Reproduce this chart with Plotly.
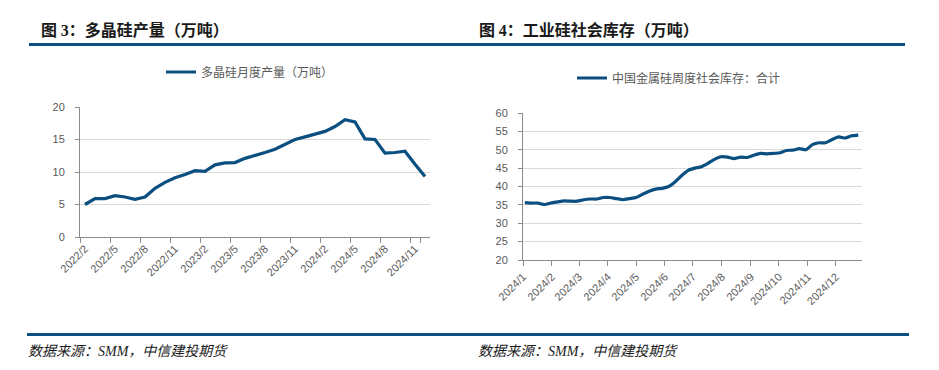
import plotly.graph_objects as go
import datetime as _dt

W, H = 939, 370
OFF = 8  # browser body margin offset of the plot div

# ---- Data: polysilicon monthly output (万吨) ----
poly_months = [
    "2022/2", "2022/3", "2022/4", "2022/5", "2022/6", "2022/7", "2022/8", "2022/9",
    "2022/10", "2022/11", "2022/12", "2023/1", "2023/2", "2023/3", "2023/4", "2023/5",
    "2023/6", "2023/7", "2023/8", "2023/9", "2023/10", "2023/11", "2023/12", "2024/1",
    "2024/2", "2024/3", "2024/4", "2024/5", "2024/6", "2024/7", "2024/8", "2024/9",
    "2024/10", "2024/11", "2024/12",
]
poly_output = [
    5.0, 5.9, 5.9, 6.35, 6.15, 5.8, 6.15, 7.5,
    8.4, 9.1, 9.6, 10.2, 10.1, 11.1, 11.4, 11.45,
    12.1, 12.5, 13.0, 13.5, 14.2, 15.0, 15.4, 15.85,
    16.25, 17.0, 18.05, 17.7, 15.1, 15.0, 12.9, 13.0,
    13.2, 11.2, 9.3,
]
poly_tick_labels = poly_months[::3]

# ---- Data: industrial silicon weekly social inventory (万吨) ----
inv_start = "2024-01-03"
inv_values = [
    35.6, 35.5, 35.5, 35.1, 35.5, 35.8, 36.1, 36.0, 36.0, 36.4,
    36.6, 36.6, 37.0, 37.0, 36.7, 36.4, 36.7, 37.0, 37.9, 38.7,
    39.3, 39.5, 40.0, 41.3, 43.0, 44.4, 45.0, 45.4, 46.3, 47.4,
    48.1, 48.0, 47.6, 48.0, 47.9, 48.5, 49.0, 48.9, 49.0, 49.2,
    49.8, 49.9, 50.3, 50.0, 51.4, 51.9, 51.9, 52.8, 53.5, 53.2,
    53.8, 54.0,
]
inv_tick_dates = [f"2024-{m:02d}-01" for m in range(1, 13)]
inv_tick_labels = [f"2024/{m}" for m in range(1, 13)]

_d0 = _dt.date.fromisoformat(inv_start)
inv_dates = [(_d0 + _dt.timedelta(days=7 * i)).isoformat() for i in range(len(inv_values))]

LINE = "#0b4f80"
AX = "#8c8c8c"
GRID = "#d9d9d9"
TXT = "#595959"
TICKFONT = dict(family="Liberation Sans, Arial, sans-serif", size=11, color=TXT)
CJK = "Noto Sans CJK SC"


def px(x):
    return (x - OFF) / W


def py(y):
    return 1 - (y - OFF) / H


fig = go.Figure()

fig.add_trace(go.Scatter(
    x=poly_months, y=poly_output, mode="lines",
    line=dict(color=LINE, width=3.2),
    name="多晶硅月度产量（万吨）",
    xaxis="x", yaxis="y", legend="legend",
))
fig.add_trace(go.Scatter(
    x=inv_dates, y=inv_values, mode="lines",
    line=dict(color=LINE, width=3.2, shape="spline", smoothing=0.6),
    name="中国金属硅周度社会库存：合计",
    xaxis="x2", yaxis="y2", legend="legend2",
))

common_y = dict(
    showgrid=True, gridcolor=GRID, gridwidth=1,
    showline=True, linecolor=AX, linewidth=1,
    ticks="outside", ticklen=4, tickcolor=AX,
    tickfont=TICKFONT, zeroline=False, ticklabelstandoff=8,
    automargin=False,
)
common_x = dict(
    showgrid=False, showline=True, linecolor=AX, linewidth=1,
    ticks="outside", ticklen=5, tickcolor=AX,
    tickfont=TICKFONT, tickangle=-45, zeroline=False,
    automargin=False,
)

fig.update_layout(
    width=W, height=H, autosize=False,
    margin=dict(l=0, r=0, t=0, b=0, pad=0, autoexpand=False),
    paper_bgcolor="white", plot_bgcolor="white",
    xaxis=dict(
        domain=[px(80), px(430)], anchor="y", type="category",
        categoryorder="array", categoryarray=poly_months,
        range=[-0.5, len(poly_months) - 0.5],
        tickmode="array", tickvals=poly_tick_labels, ticktext=poly_tick_labels,
        tickson="boundaries", **common_x,
    ),
    yaxis=dict(
        domain=[py(237), py(107)], anchor="x", range=[0, 20], dtick=5,
        **common_y,
    ),
    xaxis2=dict(
        domain=[px(523), px(862)], anchor="y2", type="date",
        range=["2024-01-01", "2024-12-29"],
        tickmode="array", tickvals=inv_tick_dates, ticktext=inv_tick_labels,
        **common_x,
    ),
    yaxis2=dict(
        domain=[py(260), py(113)], anchor="x2", range=[20, 60], dtick=5,
        **common_y,
    ),
    legend=dict(
        x=px(161), y=py(72), xanchor="left", yanchor="middle",
        font=dict(family=CJK, size=12, color=TXT), bgcolor="rgba(0,0,0,0)",
    ),
    legend2=dict(
        x=px(572), y=py(78), xanchor="left", yanchor="middle",
        font=dict(family=CJK, size=12, color=TXT), bgcolor="rgba(0,0,0,0)",
    ),
    showlegend=True,
)

SERIF = "font-family:'Liberation Serif', serif"
# Section titles
fig.add_annotation(
    text=f"图 <span style=\"{SERIF}\">3</span>：多晶硅产量（万吨）",
    x=px(39), y=py(29), xref="paper", yref="paper",
    xanchor="left", yanchor="middle", showarrow=False,
    font=dict(family=CJK, size=16, color="#1a1a1a", weight="bold"),
)
fig.add_annotation(
    text=f"图 <span style=\"{SERIF}\">4</span>：工业硅社会库存（万吨）",
    x=px(477), y=py(29), xref="paper", yref="paper",
    xanchor="left", yanchor="middle", showarrow=False,
    font=dict(family=CJK, size=16, color="#1a1a1a", weight="bold"),
)
# Sources
for sx in (26, 476):
    fig.add_annotation(
        text=f"数据来源：<span style=\"{SERIF}\">SMM</span>，中信建投期货",
        x=px(sx), y=py(350), xref="paper", yref="paper",
        xanchor="left", yanchor="middle", showarrow=False,
        font=dict(family=CJK, size=14, color="#1a1a1a", style="italic"),
    )

# Rules
fig.add_shape(type="line", xref="paper", yref="paper",
              x0=px(29), x1=px(905), y0=py(44.5), y1=py(44.5),
              line=dict(color="#0b4f80", width=3))
fig.add_shape(type="line", xref="paper", yref="paper",
              x0=px(27), x1=px(909), y0=py(334.5), y1=py(334.5),
              line=dict(color="#0b4f80", width=3))

fig.write_html("out.html")
